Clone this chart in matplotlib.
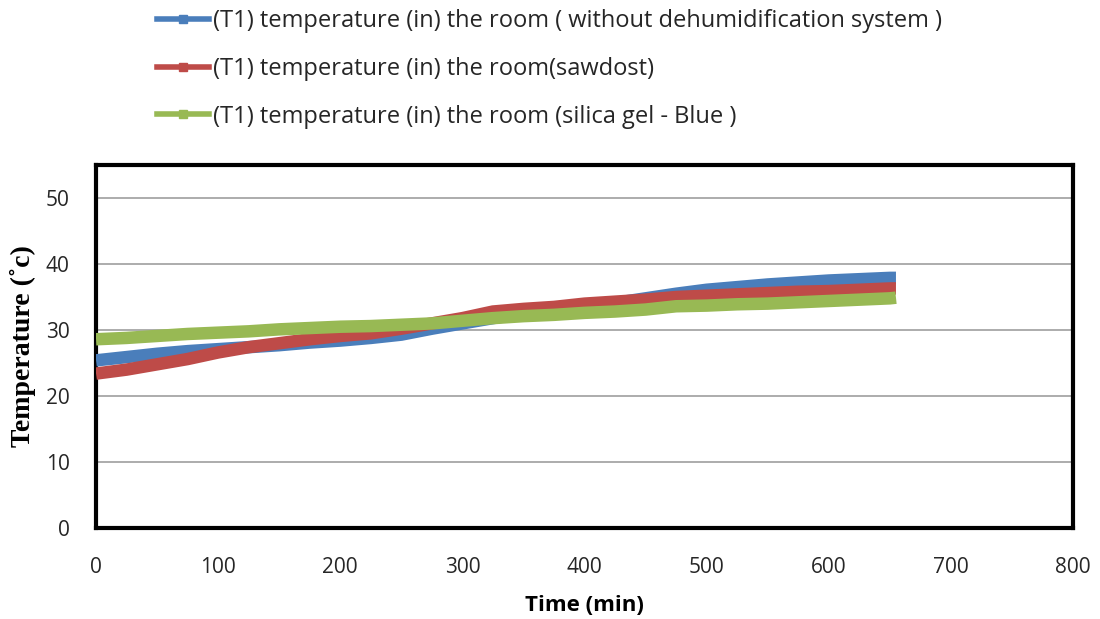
import numpy as np
import matplotlib
matplotlib.use('Agg')
import matplotlib.pyplot as plt

# time (min) and room temperature (deg C)
time = [0, 25, 50, 75, 100, 125, 150, 175, 200, 225, 250, 275, 300, 325,
        350, 375, 400, 425, 450, 475, 500, 525, 550, 575, 600, 625, 650, 655]
t_none = [25.4, 25.9, 26.4, 26.8, 27.1, 27.4, 27.7, 28.1, 28.4, 28.8, 29.3, 30.2, 31.0, 31.8,
          32.5, 33.1, 33.6, 34.1, 34.8, 35.5, 36.1, 36.5, 36.9, 37.2, 37.5, 37.7, 37.9, 37.9]
t_sawdust = [23.4, 24.0, 24.8, 25.6, 26.6, 27.4, 28.0, 28.6, 29.1, 29.5, 30.2, 31.0, 31.8, 32.8,
             33.2, 33.5, 34.0, 34.3, 34.6, 35.0, 35.2, 35.4, 35.6, 35.8, 35.9, 36.1, 36.3, 36.3]
t_silica = [28.6, 28.8, 29.1, 29.4, 29.6, 29.8, 30.1, 30.3, 30.5, 30.6, 30.8, 31.0, 31.4, 31.8,
            32.1, 32.3, 32.6, 32.8, 33.1, 33.6, 33.7, 33.9, 34.0, 34.2, 34.4, 34.6, 34.8, 34.9]

labels = ['(T1) temperature (in) the room ( without dehumidification system )',
          '(T1) temperature (in) the room(sawdost)',
          '(T1) temperature (in) the room (silica gel - Blue )']
colors = ['#4A7EBB', '#BE4B48', '#98B954']

fig = plt.figure(figsize=(11, 6.19), dpi=100)
ax = fig.add_axes([0.0873, 0.147, 0.8882, 0.5864])

for ys, lab, c in zip([t_none, t_sawdust, t_silica], labels, colors):
    ax.plot(time, ys, color=c, lw=9, solid_capstyle='butt', solid_joinstyle='miter',
            label=lab, zorder=3)

ax.set_xlim(0, 800)
ax.set_ylim(0, 55)
ax.set_xticks(np.arange(0, 801, 100))
ax.set_yticks(np.arange(0, 51, 10))
ax.grid(axis='y', color='#A6A6A6', lw=1.3)
ax.set_axisbelow(True)
ax.tick_params(length=0, labelsize=15)
ax.tick_params(axis='x', pad=21)
ax.tick_params(axis='y', pad=19)
for lbl in ax.get_xticklabels() + ax.get_yticklabels():
    lbl.set_family('Open Sans')
    lbl.set_color('#262626')
for s in ax.spines.values():
    s.set_linewidth(3)
    s.set_color('black')

ax.set_xlabel('Time (min)', family='Open Sans', fontweight='bold', fontsize=16, labelpad=12)
ax.set_ylabel('Temperature (˚c)', family='Liberation Serif', fontweight='bold', fontsize=20,
              labelpad=7)

# legend handles with a small square marker in the middle
handles = [plt.Line2D([0], [0], color=c, lw=4, marker='s', markersize=6) for c in colors]
fig.legend(handles, labels, loc='upper left', bbox_to_anchor=(0.1345, 1.0), frameon=False,
           prop={'family': 'Open Sans', 'size': 17}, handlelength=2.2, handletextpad=0.15,
           labelspacing=1.0, borderaxespad=0.0, labelcolor='#262626')

fig.savefig('out.png', dpi=100)
